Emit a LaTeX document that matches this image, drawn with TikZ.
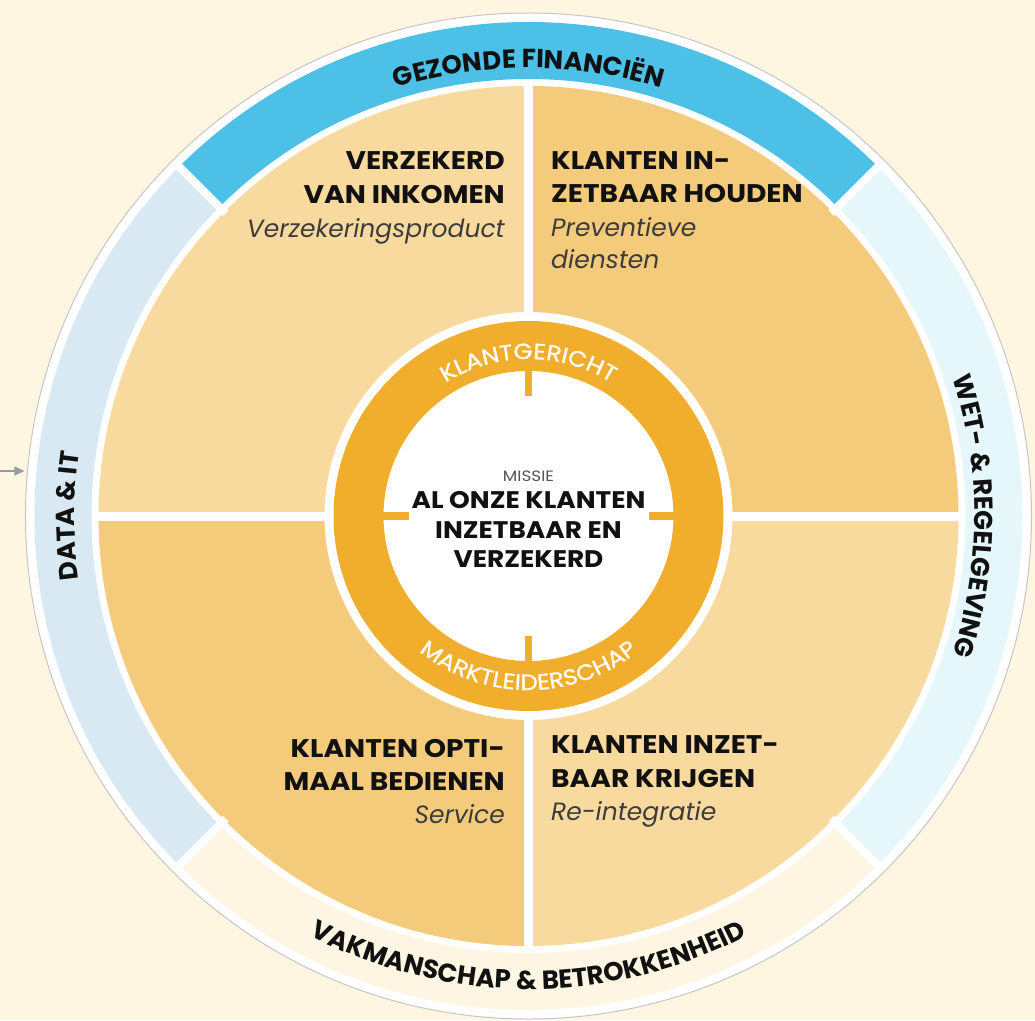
\documentclass[tikz,border=0pt]{standalone}
\usepackage{fontspec}
\setmainfont{Poppins}
\newfontfamily\famA[FakeStretch=1.10]{Poppins}
\newfontfamily\famB[FakeStretch=1.12]{Poppins}
\newfontfamily\famC[FakeStretch=1.12,FakeBold=0.8]{Poppins}
\usetikzlibrary{decorations.text,arrows.meta}
\definecolor{bgc}{HTML}{FEF6E1}
\definecolor{blueR}{HTML}{4DC0E7}
\definecolor{cyanR}{HTML}{E6F7FB}
\definecolor{lblueR}{HTML}{D8E9F4}
\definecolor{creamR}{HTML}{FEF6E3}
\definecolor{qlight}{HTML}{F8DA9F}
\definecolor{qdark}{HTML}{F4CA7B}
\definecolor{orng}{HTML}{F0AE2C}
\definecolor{ink}{HTML}{111111}
\definecolor{subink}{HTML}{3C3C3C}
\definecolor{misink}{HTML}{555555}
\definecolor{arrg}{HTML}{9A9A9A}
\newcommand\ttlf{\famA\fontsize{25.5}{30}\selectfont\bfseries}
\newcommand\subf{\fontsize{25}{30}\selectfont\itshape}
\newcommand\ringf{\fontsize{26}{26}\selectfont\bfseries}
\newcommand\innf{\famC\fontsize{22}{22}\selectfont}
\newcommand\ctrf{\famA\fontsize{24}{28}\selectfont\bfseries}
\newcommand\misf{\famB\fontsize{15}{15}\selectfont}
\newcommand\annsec[5]{\fill[#1] (#2:#4) arc[start angle=#2,end angle=#3,radius=#4] -- (#3:#5) arc[start angle=#3,end angle=#2,radius=#5] -- cycle;}
\begin{document}
\begin{tikzpicture}[x=1pt,y=1pt,
  ttl/.style={font=\ttlf, text=ink, inner sep=0pt},
  sub/.style={font=\subf, text=subink, inner sep=0pt},
  ctr/.style={font=\ctrf, text=ink, inner sep=0pt, anchor=base},
  sep/.style={white, line width=#1},
  ringtext/.style={decorate, decoration={text along path, text align=center, text color=ink, text={|\ringf|#1}}},
  innertext/.style={decorate, decoration={text along path, text align=center, text color=white, text={|\innf|#1}}}
]
\fill[bgc] (-528.5,-504) rectangle (506.5,516);
\useasboundingbox (-528.5,-504) rectangle (506.5,516);
% outer disc
\filldraw[fill=white, draw=gray!45, line width=1] (0,0) circle[radius=503];
% outer ring segments
\annsec{blueR}{45}{135}{437}{494}
\annsec{lblueR}{135}{225}{437}{494}
\annsec{creamR}{225}{315}{437}{494}
\annsec{cyanR}{-45}{45}{437}{494}
% quadrants
\annsec{qlight}{90}{180}{204}{430}
\annsec{qdark}{0}{90}{204}{430}
\annsec{qdark}{180}{270}{204}{430}
\annsec{qlight}{270}{360}{204}{430}
% separators
\foreach \a in {45,135,225,315} \draw[sep=8] (\a:428) -- (\a:500);
\foreach \a in {0,90,180,270} \draw[sep=9] (\a:196) -- (\a:433);
% inner orange ring
\fill[orng, even odd rule] (0,0) circle[radius=195] (0,0) circle[radius=145];
\foreach \a in {0,90,180,270} \draw[orng, line width=7.5] (\a:120) -- (\a:146);
% ring texts
\path[ringtext={GEZONDE FINANCIËN}] (150:448) arc[start angle=150, end angle=30, radius=448];
\path[ringtext={DATA {\&} IT}] (235:454) arc[start angle=235, end angle=125, radius=454];
\path[ringtext={WET- {\&} REGELGEVING}] (55:446) arc[start angle=55, end angle=-55, radius=446];
\path[ringtext={VAKMANSCHAP {\&} BETROKKENHEID}] (205:473) arc[start angle=205, end angle=335, radius=473];
% inner ring texts
\path[innertext={KLANTGERICHT}] (160:157) arc[start angle=160, end angle=20, radius=157];
\path[innertext={MARKTLEIDERSCHAP}] (190:174) arc[start angle=190, end angle=350, radius=174];
% quadrant texts
\node[ttl, anchor=base east] (tl1) at (-23.5,346) {VERZEKERD};
\node[ttl, anchor=base east] (tl2) at (-23.5,312) {VAN INKOMEN};
\node[sub, anchor=base east] (tl3) at (-23.5,278) {Verzekeringsproduct};
\node[ttl, anchor=base west] (tr1) at (22.5,346) {KLANTEN IN-};
\node[ttl, anchor=base west] (tr2) at (22.5,313) {ZETBAAR HOUDEN};
\node[sub, anchor=base west] (tr3) at (22.5,279) {Preventieve};
\node[sub, anchor=base west] (tr4) at (22.5,247) {diensten};
\node[ttl, anchor=base east] (bl1) at (-23.5,-241) {KLANTEN OPTI-};
\node[ttl, anchor=base east] (bl2) at (-23.5,-274) {MAAL BEDIENEN};
\node[sub, anchor=base east] (bl3) at (-23.5,-307) {Service};
\node[ttl, anchor=base west] (br1) at (22.5,-237) {KLANTEN INZET-};
\node[ttl, anchor=base west] (br2) at (22.5,-271) {BAAR KRIJGEN};
\node[sub, anchor=base west] (br3) at (22.5,-304) {Re-integratie};
% center
\node[font=\misf, text=misink, inner sep=0pt, anchor=base] (mis) at (0,35) {MISSIE};
\node[ctr] (c1) at (0,8) {AL ONZE KLANTEN};
\node[ctr] (c2) at (0,-22) {INZETBAAR EN};
\node[ctr] (c3) at (0,-51) {VERZEKERD};
% small arrow
\coordinate (arrS) at (-528.5,45);
\coordinate (arrE) at (-504,45);
\draw[arrg, line width=1.2, -{Triangle[length=10pt,width=9pt]}] (arrS) -- (arrE);
\end{tikzpicture}
\end{document}
